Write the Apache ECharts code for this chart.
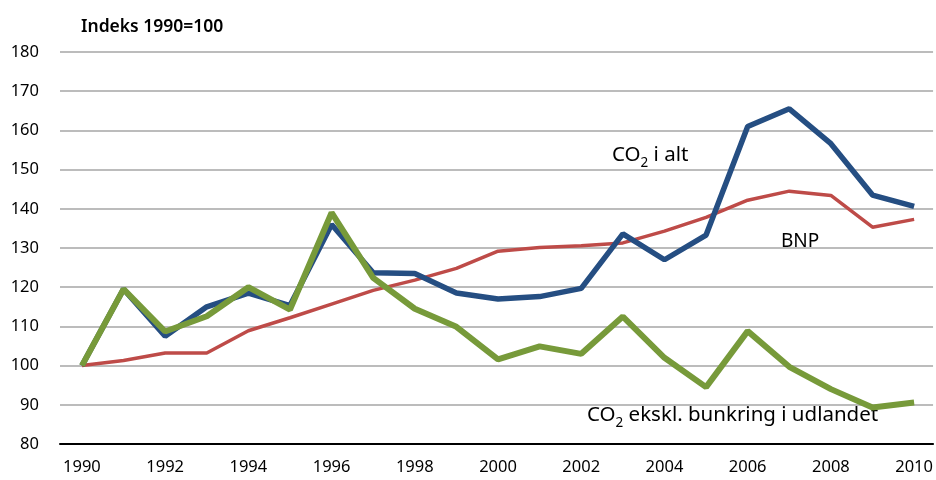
<!DOCTYPE html>
<html><head><meta charset="utf-8">
<script src="https://cdn.jsdelivr.net/npm/echarts@6/dist/echarts.min.js"></script>
<style>html,body{margin:0;padding:0;background:#fff}#c{width:936px;height:480px}</style>
</head><body><div id="c"></div>
<script>
const years = [1990,1991,1992,1993,1994,1995,1996,1997,1998,1999,2000,2001,2002,2003,2004,2005,2006,2007,2008,2009,2010];
const tickYears = [1990,1992,1994,1996,1998,2000,2002,2004,2006,2008,2010];
const co2Total = [100,119.5,107.5,115,118.5,115.3,136,123.7,123.5,118.5,117,117.6,119.7,133.6,127,133.3,161,165.5,156.6,143.5,140.6];
const bnp = [100,101.3,103.2,103.2,108.9,112.2,115.7,119.2,121.8,124.8,129.2,130.1,130.6,131.3,134.3,137.8,142.2,144.5,143.4,135.3,137.3];
const co2Excl = [100,119.5,108.7,112.6,120,114.3,139,122.4,114.5,109.9,101.6,104.9,103,112.5,102,94.5,108.8,99.7,94,89.3,90.6];
const yTitle = 'Indeks 1990=100';
const labelCo2Total = ['CO','2',' i alt'];
const labelBnp = 'BNP';
const labelCo2Excl = ['CO','2',' ekskl. bunkring i udlandet'];

const font = '"Noto Sans", "Open Sans", sans-serif';
const pair = arr => years.map((y,i)=>[y,arr[i]]);
const rich = {
  a:{fontSize:20.5,fontFamily:font,color:'#000',lineHeight:25,padding:[0,0,5,0]},
  s:{fontSize:13.5,fontFamily:font,color:'#000',lineHeight:14,verticalAlign:'bottom'}
};
const richText = p => `{a|${p[0]}}{s|${p[1]}}{a|${p[2]}}`;
const chart = echarts.init(document.getElementById('c'), null, {renderer:'canvas'});
chart.setOption({
  animation:false,
  backgroundColor:'#fff',
  grid:{left:60,right:0,top:52,bottom:36},
  xAxis:{type:'value',min:1989.473,max:2010.455,
    axisLine:{show:true,onZero:false,lineStyle:{color:'#000',width:2}},
    axisTick:{show:false},
    splitLine:{show:false},
    axisLabel:{customValues:tickYears,color:'#000',fontSize:16.5,fontFamily:font,margin:15,formatter:v=>String(v)}
  },
  yAxis:{type:'value',min:80,max:180,interval:10,
    axisLine:{show:false},axisTick:{show:false},
    splitLine:{lineStyle:{color:'#a6a6a6',width:1.5}},
    axisLabel:{color:'#000',fontSize:16.5,fontFamily:font,margin:21}
  },
  graphic:[
    {type:'text',left:81,top:18,style:{text:yTitle,font:'600 17.5px '+font,fill:'#000'}},
    {type:'text',left:612,top:145,style:{text:richText(labelCo2Total),rich:rich}},
    {type:'text',left:781,top:232,style:{text:labelBnp,font:'19px '+font,fill:'#000'}},
    {type:'text',left:587,top:405,style:{text:richText(labelCo2Excl),rich:rich}}
  ],
  series:[
    {type:'line',name:'BNP',data:pair(bnp),showSymbol:false,lineStyle:{color:'#be4b48',width:3.5},itemStyle:{color:'#be4b48'}},
    {type:'line',name:'CO2 i alt',data:pair(co2Total),showSymbol:false,lineStyle:{color:'#254e82',width:5.5},itemStyle:{color:'#254e82'}},
    {type:'line',name:'CO2 ekskl',data:pair(co2Excl),showSymbol:false,lineStyle:{color:'#779a3a',width:6},itemStyle:{color:'#779a3a'}}
  ]
});
</script></body></html>
